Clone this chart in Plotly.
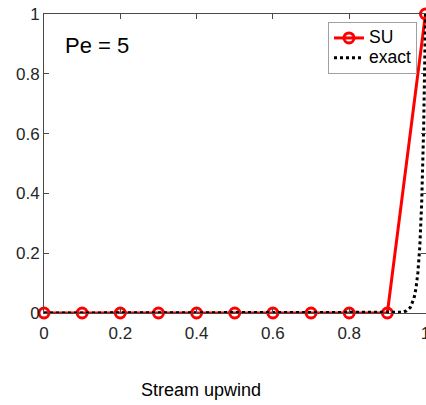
import plotly.graph_objects as go

# Streamline-upwind (SU) solution on a uniform mesh, h = 0.1
x_su = [0.0, 0.1, 0.2, 0.3, 0.4, 0.5, 0.6, 0.7, 0.8, 0.9, 1.0]
u_su = [0.0, 0.0, 0.0, 0.0, 0.0, 0.0, 0.0, 0.0, 0.0, 0.0, 1.0]

# Exact solution with its thin boundary layer at x = 1
x_exact = [0.0, 0.1, 0.2, 0.3, 0.4, 0.5, 0.6, 0.7, 0.8, 0.9, 0.92, 0.93, 0.94,
           0.95, 0.96, 0.97, 0.975, 0.98, 0.985, 0.99, 0.995, 1.0]
u_exact = [0.0, 0.0, 0.0, 0.0, 0.0, 0.0, 0.0, 0.0, 0.0, 0.0, 0.0003, 0.001, 0.0025,
           0.007, 0.018, 0.05, 0.082, 0.135, 0.22, 0.37, 0.61, 1.0]

x_ticks = [0, 0.2, 0.4, 0.6, 0.8, 1]
x_tick_labels = ["0", "0.2", "0.4", "0.6", "0.8", "1"]
y_ticks = [0, 0.2, 0.4, 0.6, 0.8, 1]
y_tick_labels = ["0", "0.2", "0.4", "0.6", "0.8", "1"]

FONT = "Liberation Sans, Arial, sans-serif"
AX = "#4a4a4a"


def legend_label(s):
    # larger glyphs than the legend's row-height font, for compact rows
    return f'<span style="font-size:17.5px">{s}</span>'


fig = go.Figure()
fig.add_trace(go.Scatter(
    x=x_su, y=u_su, name=legend_label("SU"), mode="lines+markers",
    line=dict(color="#ff0000", width=3),
    marker=dict(symbol="circle-open", size=10, color="#ff0000",
                line=dict(width=3, color="#ff0000")),
    cliponaxis=False, legendrank=1,
))
fig.add_trace(go.Scatter(
    x=x_exact, y=u_exact, name=legend_label("exact"), mode="lines",
    line=dict(color="#000000", width=3, dash="dot"),
    cliponaxis=False, legendrank=2,
))

fig.add_annotation(
    text="Pe = 5", xref="paper", yref="paper", x=0.05, y=0.895,
    xanchor="left", yanchor="middle", showarrow=False,
    font=dict(family=FONT, size=22, color="#000000"),
)
fig.add_annotation(
    text="Stream upwind", xref="paper", yref="paper",
    x=(201 - 44) / 382, y=-(390 - 313) / 299,
    xanchor="center", yanchor="middle", showarrow=False,
    font=dict(family=FONT, size=18, color="#000000"),
)

axis_common = dict(
    showline=True, linecolor=AX, linewidth=1, mirror="allticks",
    ticks="inside", ticklen=5, tickcolor=AX, tickwidth=1,
    showgrid=False, zeroline=False, ticklabeloverflow="allow",
    automargin=False,
    tickfont=dict(family=FONT, size=17, color="#262626"),
)

fig.update_layout(
    width=426, height=405,
    margin=dict(l=44, r=0, t=14, b=92, autoexpand=False),
    paper_bgcolor="white", plot_bgcolor="white",
    font=dict(family=FONT),
    xaxis=dict(range=[0, 1.0013], tickvals=x_ticks, ticktext=x_tick_labels,
               ticklabelstandoff=5, **axis_common),
    yaxis=dict(range=[0, 1], tickvals=y_ticks, ticktext=y_tick_labels,
               **axis_common),
    showlegend=True,
    legend=dict(
        x=(328 - 44) / 382, y=1 - (22 - 14) / 299, xanchor="left", yanchor="top",
        bgcolor="white", bordercolor="#a0a0a0", borderwidth=1,
        font=dict(family=FONT, size=13, color="#000000"),
        tracegroupgap=0, itemwidth=30,
    ),
)

fig.write_html("out.html")
